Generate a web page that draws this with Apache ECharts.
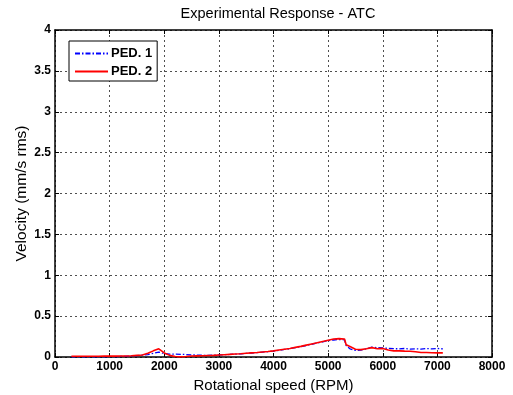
<!DOCTYPE html>
<html>
<head>
<meta charset="utf-8">
<script src="https://cdn.jsdelivr.net/npm/echarts@6/dist/echarts.min.js"></script>
<style>
  html, body { margin: 0; padding: 0; background: #fff; }
  #chart { width: 513px; height: 395px; }
</style>
</head>
<body>
<div id="chart"></div>
<script>
// Rotational speed samples (RPM)
const rpm = [
  300, 400, 500, 600, 700, 800, 900, 1000, 1100, 1200, 1300, 1400, 1500, 1600, 1700,
  1800, 1900, 2000, 2100, 2200, 2300, 2400, 2500, 2600, 2700, 2800, 2900, 3000, 3100,
  3200, 3300, 3400, 3500, 3600, 3700, 3800, 3900, 4000, 4100, 4200, 4300, 4400, 4500,
  4600, 4700, 4800, 4900, 5000, 5100, 5200, 5300, 5330, 5400, 5500, 5600, 5700, 5800,
  5900, 6000, 6100, 6200, 6300, 6400, 6500, 6600, 6700, 6800, 6900, 7000, 7100
];

// Velocity, pedestal 1 (mm/s rms)
const ped1 = [
  0.002, 0.002, 0.003, 0.002, 0.003, 0.002, 0.003, 0.004, 0.005, 0.006, 0.008, 0.012, 0.018, 0.022, 0.030,
  0.045, 0.060, 0.042, 0.036, 0.035, 0.033, 0.030, 0.026, 0.023, 0.021, 0.020, 0.022, 0.025, 0.028,
  0.031, 0.035, 0.039, 0.044, 0.049, 0.054, 0.060, 0.066, 0.073, 0.082, 0.092, 0.102, 0.114, 0.127,
  0.141, 0.156, 0.171, 0.186, 0.200, 0.208, 0.214, 0.210, 0.140, 0.100, 0.080, 0.085, 0.100, 0.120,
  0.114, 0.110, 0.106, 0.102, 0.100, 0.104, 0.097, 0.101, 0.096, 0.103, 0.099, 0.104, 0.100
];

// Velocity, pedestal 2 (mm/s rms)
const ped2 = [
  0.010, 0.010, 0.010, 0.010, 0.010, 0.010, 0.011, 0.011, 0.011, 0.012, 0.012, 0.015, 0.020, 0.025, 0.045,
  0.075, 0.100, 0.050, 0.020, 0.006, 0.002, 0.006, 0.012, 0.014, 0.016, 0.018, 0.020, 0.024, 0.028,
  0.032, 0.036, 0.040, 0.045, 0.050, 0.055, 0.062, 0.068, 0.075, 0.085, 0.095, 0.105, 0.118, 0.130,
  0.145, 0.160, 0.175, 0.190, 0.205, 0.220, 0.225, 0.220, 0.150, 0.128, 0.095, 0.090, 0.100, 0.115,
  0.100, 0.105, 0.085, 0.075, 0.075, 0.072, 0.070, 0.065, 0.055, 0.055, 0.052, 0.050, 0.050
];

const seriesNames = ['PED. 1', 'PED. 2'];
const xTicks = [0, 1000, 2000, 3000, 4000, 5000, 6000, 7000, 8000];
const yTicks = [0, 0.5, 1, 1.5, 2, 2.5, 3, 3.5, 4];

const pairs = (xs, ys) => xs.map((x, i) => [x, ys[i]]);

const font = 'Liberation Sans, Arial, Helvetica, sans-serif';
const gridLine = { show: true, lineStyle: { color: '#222', width: 0.8, type: [2, 3] } };
const boxLine = { show: true, onZero: false, lineStyle: { color: '#000', width: 1.5 } };
const tick = { show: true, inside: true, length: 4, lineStyle: { color: '#000' } };
const labelStyle = { fontFamily: font, fontSize: 12, fontWeight: 'bold', color: '#000', margin: 4 };

const chart = echarts.init(document.getElementById('chart'), null, { renderer: 'canvas' });

chart.setOption({
  animation: false,
  backgroundColor: '#fff',
  title: {
    text: 'Experimental Response - ATC',
    left: 273, top: 1, textAlign: 'center',
    textStyle: { fontFamily: font, fontSize: 14.5, fontWeight: 'normal', color: '#000' }
  },
  grid: { left: 55, right: 21, top: 30, bottom: 38, outerBoundsMode: 'none', containLabel: false },
  legend: {
    orient: 'vertical',
    left: 69, top: 41,
    data: seriesNames,
    itemWidth: 33, itemHeight: 10, itemGap: 5,
    padding: [6, 5, 3, 5],
    borderColor: '#000', borderWidth: 1,
    backgroundColor: '#fff',
    itemStyle: { opacity: 0 },
    textStyle: { fontFamily: font, fontSize: 13, fontWeight: 'bold', color: '#000', padding: [0, 0, 0, -2] }
  },
  xAxis: [{
    type: 'value', min: xTicks[0], max: xTicks[xTicks.length - 1], interval: 1000,
    name: 'Rotational speed (RPM)', nameLocation: 'middle', nameGap: 16,
    nameTextStyle: { fontFamily: font, fontSize: 15, color: '#000' },
    axisLine: boxLine, axisTick: tick,
    axisLabel: Object.assign({ formatter: v => String(v) }, labelStyle),
    splitLine: gridLine
  }, {
    type: 'value', position: 'top', min: xTicks[0], max: xTicks[xTicks.length - 1], interval: 1000,
    axisLine: boxLine, axisTick: tick,
    axisLabel: { show: false }, splitLine: { show: false }
  }],
  yAxis: [{
    type: 'value', min: yTicks[0], max: yTicks[yTicks.length - 1], interval: 0.5,
    name: 'Velocity (mm/s rms)', nameLocation: 'middle', nameGap: 25, nameMoveOverlap: false,
    nameTextStyle: { fontFamily: font, fontSize: 15.5, color: '#000' },
    axisLine: boxLine, axisTick: tick,
    axisLabel: Object.assign({ formatter: v => String(v) }, labelStyle),
    splitLine: gridLine
  }, {
    type: 'value', position: 'right', min: yTicks[0], max: yTicks[yTicks.length - 1], interval: 0.5,
    axisLine: boxLine, axisTick: tick,
    axisLabel: { show: false }, splitLine: { show: false }
  }],
  series: [{
    name: seriesNames[0], type: 'line', xAxisIndex: 0, yAxisIndex: 0,
    data: pairs(rpm, ped1), symbol: 'none', showSymbol: false, z: 3,
    color: '#0000ff',
    lineStyle: { color: '#0000ff', width: 1.3, type: [5, 2, 1.5, 2] }
  }, {
    name: seriesNames[1], type: 'line', xAxisIndex: 0, yAxisIndex: 0,
    data: pairs(rpm, ped2), symbol: 'none', showSymbol: false, z: 4,
    color: '#ff0000',
    lineStyle: { color: '#ff0000', width: 1.6 }
  }]
});
</script>
</body>
</html>
